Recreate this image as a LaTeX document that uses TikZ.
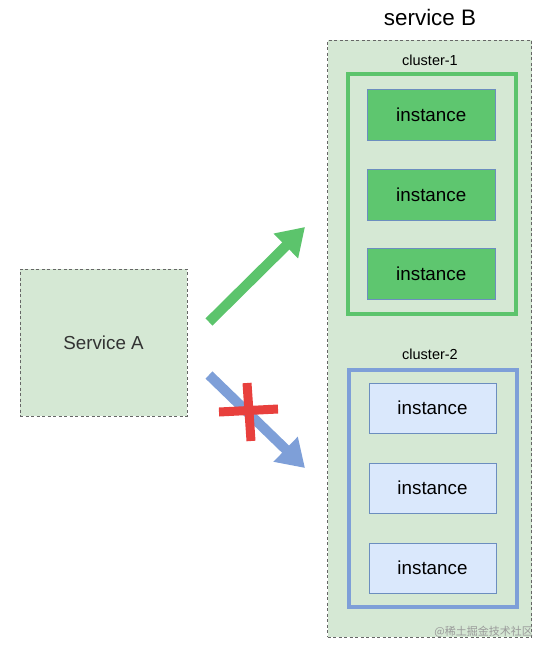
\documentclass[tikz,border=0pt]{standalone}
\usepackage{fontspec}
\setmainfont{Liberation Sans}
\newfontfamily\cjk{Noto Sans CJK SC}
\usetikzlibrary{arrows.meta}
\definecolor{bgfill}{HTML}{D5E8D4}
\definecolor{dashgray}{HTML}{666666}
\definecolor{grn}{HTML}{5CC46C}
\definecolor{grnfill}{HTML}{5EC66F}
\definecolor{blu}{HTML}{7E9FD8}
\definecolor{blufill}{HTML}{DAE8FC}
\definecolor{blustroke}{HTML}{6C8EBF}
\definecolor{redx}{HTML}{E8403D}
\definecolor{txtdark}{HTML}{333333}
\tikzset{
  svcbox/.style={draw=dashgray, dash pattern=on 3pt off 2.5pt, fill=bgfill, line width=1pt, inner sep=0pt},
  clusterbox/.style={line width=4.5pt, inner sep=0pt},
  ginst/.style={draw=blustroke, fill=grnfill, line width=0.7pt, minimum width=127.5pt, minimum height=51pt, inner sep=0pt, font=\fontsize{18.8}{20}\selectfont},
  binst/.style={draw=blustroke, fill=blufill, line width=0.7pt, minimum width=127pt, minimum height=50pt, inner sep=0pt, font=\fontsize{18.8}{20}\selectfont},
  lbl/.style={inner sep=0pt, font=\fontsize{14.5}{16}\selectfont},
  bigarrow/.style={line width=10pt, -{Triangle[length=27pt,width=33pt]}},
  xbar/.style={draw=redx, line width=9pt},
}
\begin{document}
\begin{tikzpicture}[x=1pt,y=-1pt]
\useasboundingbox (0,0) rectangle (552,656);
% Service A
\node[svcbox, minimum width=167pt, minimum height=147pt, text=txtdark, font=\fontsize{18.8}{20}\selectfont] (A) at (103.5,342.5) {\raisebox{-2pt}{Service A}};
% Service B container
\node[svcbox, minimum width=204pt, minimum height=597pt] (B) at (429.5,338.5) {};
\node[inner sep=0pt, font=\fontsize{22.4}{24}\selectfont, anchor=base] (Btitle) at (430,25) {service B};
% cluster 1
\node[lbl, anchor=base] (c1lbl) at (430,65) {cluster-1};
\draw[clusterbox, draw=grn] (348,74) rectangle (516,314);
\node[ginst] (g1) at (431.25,114.75) {instance};
\node[ginst] (g2) at (431.25,194.5) {instance};
\node[ginst] (g3) at (431.25,274) {instance};
% cluster 2
\node[lbl, anchor=base] (c2lbl) at (430,359) {cluster-2};
\draw[clusterbox, draw=blu] (349,370) rectangle (517,607);
\node[binst] (b1) at (432.5,408) {instance};
\node[binst] (b2) at (432.5,488) {instance};
\node[binst] (b3) at (432.5,568) {instance};
% arrows
\coordinate (gs) at (209,322);
\coordinate (ge) at (305,227);
\coordinate (bs) at (209,375);
\coordinate (be) at (305,468);
\draw[bigarrow, draw=grn, fill=grn] (gs) -- (ge);
\draw[bigarrow, draw=blu, fill=blu] (bs) -- (be);
% red cross
\coordinate (xh1) at (219,412);
\coordinate (xh2) at (278,409);
\coordinate (xv1) at (247,383);
\coordinate (xv2) at (251,441);
\draw[xbar] (xh1) -- (xh2);
\draw[xbar] (xv1) -- (xv2);
% watermark
\node[inner sep=0pt, anchor=east, text=black!40, font=\cjk\fontsize{11}{12}\selectfont] (wm) at (533,632) {@稀土掘金技术社区};
\end{tikzpicture}
\end{document}
